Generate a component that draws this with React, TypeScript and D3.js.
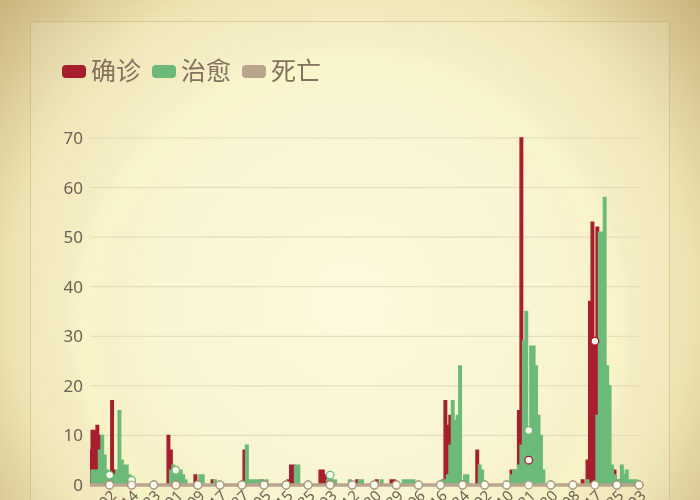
import React from 'react';
import * as d3 from 'd3';

// ---------- data ----------
const tickLabels = ['02','14','23','01','09','17','27','05','15','25','03','12','20','29','06','16','24','02','10','21','30','08','17','25','03'];
const seriesNames = ['确诊', '治愈', '死亡'];
const yTickValues = [0, 10, 20, 30, 40, 50, 60, 70];

const confirmed = [
  7,11,11,12,10,3,2,0,0,
  17,3,1,0,0,0,0,0,0,
  0,0,0,0,0,0,0,0,0,
  0,0,0,0,0,10,7,0,0,
  0,0,0,0,0,0,0,2,0,
  0,0,0,0,0,1,0,0,0,
  0,0,0,0,0,0,0,0,0,
  7,0,0,0,0,0,0,1,0,
  0,0,0,0,0,0,0,0,0,
  1,4,4,0,0,0,0,0,0,
  0,0,0,0,3,3,2,0,0,
  0,0,0,0,0,0,0,0,0,
  0,1,0,0,0,0,0,0,0,
  1,0,0,0,0,0,1,1,0,
  0,0,0,0,0,0,0,0,0,
  0,0,0,0,0,0,0,0,0,
  1,17,12,14,5,0,0,0,0,
  0,0,0,0,0,7,0,0,0,
  0,0,0,0,0,0,0,0,0,
  0,3,3,1,15,70,10,6,5,
  2,0,0,0,0,0,0,0,0,
  0,0,0,0,0,0,0,0,0,
  0,0,0,1,0,5,37,53,29,
  52,20,30,8,3,0,3,3,0,
  1,0,0,0,0,0,0,0,0,
];

const cured = [
  0,3,3,3,7,10,6,3,2,
  2,2,3,15,5,4,4,2,1,
  0,0,0,0,0,0,0,0,0,
  0,0,0,0,0,0,3,4,3,
  3,3,2,1,0,0,0,0,0,
  2,2,0,0,0,0,1,0,0,
  0,0,0,0,0,0,0,0,0,
  0,8,1,1,1,1,1,1,0,
  1,0,0,0,0,0,0,0,0,
  0,0,0,4,4,0,0,0,0,
  0,0,0,0,0,0,0,1,2,
  1,1,0,0,0,0,0,1,0,
  0,0,1,1,0,0,0,0,0,
  0,0,1,0,0,0,0,0,0,
  0,0,1,1,1,1,1,0,0,
  0,0,0,0,0,0,0,0,0,
  1,1,2,8,17,13,14,24,0,
  2,2,0,0,0,0,4,3,0,
  0,0,0,0,0,0,0,0,0,
  0,2,3,3,4,8,29,35,11,
  28,28,24,14,10,3,0,0,0,
  0,0,0,0,0,0,0,0,0,
  0,0,0,0,0,1,0,0,0,
  14,51,51,58,24,20,4,2,0,
  1,4,2,3,1,1,1,1,0,
];

const deaths = [
  0,0,0,0,0,0,0,0,0,
  0,0,0,0,0,0,0,0,0,
  0,0,0,0,0,0,0,0,0,
  0,0,0,0,0,0,0,0,0,
  0,0,0,0,0,0,0,0,0,
  0,0,0,0,0,0,0,0,0,
  0,0,0,0,0,0,0,0,0,
  0,0,0,0,0,0,0,0,0,
  0,0,0,0,0,0,0,0,0,
  0,0,0,0,0,0,0,0,0,
  0,0,0,0,0,0,0,0,0,
  0,0,0,0,0,0,0,0,0,
  0,0,0,0,0,0,0,0,0,
  0,0,0,0,0,0,0,0,0,
  0,0,0,0,0,0,0,0,0,
  0,0,0,0,0,0,0,0,0,
  0,0,0,0,0,0,0,0,0,
  0,0,0,0,0,0,0,0,0,
  0,0,0,0,0,0,0,0,0,
  0,0,0,0,0,0,0,0,0,
  0,0,0,0,0,0,0,0,0,
  0,0,0,0,0,0,0,0,0,
  0,0,0,0,0,0,0,0,0,
  0,0,0,0,0,0,0,0,0,
  0,0,0,0,0,0,0,0,0,
];

// ---------- layout / style ----------
const W = 700, H = 500;
const plotLeft = 90, plotRight = 639, plotTop = 138, plotBottom = 485;
const firstTick = 8, tickStep = 9;
const colors = ['#a71f2e', '#6cba79', '#b8a58b'];
const textColor = '#6f6154';

export default function App() {
  const n = confirmed.length;
  const x = d3.scaleLinear().domain([0, n - 1]).range([plotLeft, plotRight]);
  const y = d3.scaleLinear().domain([0, 70]).range([plotBottom, plotTop]);
  const tickIdx = tickLabels.map((_, t) => firstTick + t * tickStep);

  const area = d3.area<number>().x((_, i) => x(i)).y0(y(0)).y1((d) => y(d)).curve(d3.curveStep);
  const line = d3.line<number>().x((_, i) => x(i)).y((d) => y(d)).curve(d3.curveStep);
  const flatLine = d3.line<number>().x((_, i) => x(i)).y((d) => y(d));
  const series = [confirmed, cured, deaths];

  return (
    <svg width={W} height={H} style={{ position: 'fixed', left: 0, top: 0, display: 'block' }}>
      <defs>
        <radialGradient id="bg" cx={350} cy={300} r={470} gradientUnits="userSpaceOnUse">
          <stop offset="0" stopColor="#fcf9dc" />
          <stop offset="0.45" stopColor="#f8f3cc" />
          <stop offset="0.72" stopColor="#eee4b2" />
          <stop offset="1" stopColor="#c7af79" />
        </radialGradient>
        <filter id="blur" x="-20%" y="-20%" width="140%" height="140%">
          <feGaussianBlur stdDeviation="8" />
        </filter>
      </defs>
      <rect x={0} y={0} width={W} height={H} fill="url(#bg)" />
      <circle cx={350} cy={330} r={265} fill="none" stroke="rgba(255,252,200,0.45)" strokeWidth={22} filter="url(#blur)" />
      <rect x={30.5} y={21.5} width={639} height={500} fill="rgba(255,255,235,0.14)" stroke="rgba(175,155,105,0.35)" strokeWidth={1} />

      {/* legend */}
      {seriesNames.map((name, k) => {
        const lx = [62, 152, 242][k];
        return (
          <g key={name}>
            <rect x={lx} y={65} width={24} height={13} rx={4} fill={colors[k]} />
            <text x={lx + 29} y={80} fontSize={25} fill="#85715f" fontFamily="'Noto Sans CJK SC', sans-serif">{name}</text>
          </g>
        );
      })}

      {/* grid + y labels */}
      {yTickValues.map((v) => (
        <g key={v}>
          {v > 0 && <line x1={plotLeft} x2={plotRight} y1={y(v)} y2={y(v)} stroke="#e2d9b8" strokeWidth={1} />}
          <text x={83} y={y(v)} dy="0.35em" textAnchor="end" fontSize={17} fill={textColor} fontFamily="'Noto Sans', sans-serif">{v}</text>
        </g>
      ))}

      {/* series */}
      {series.map((s, k) => (
        <g key={k}>
          {k < 2 && <path d={area(s) || ''} fill={colors[k]} />}
          {k < 2
            ? <path d={line(s) || ''} fill="none" stroke={colors[k]} strokeWidth={1.5} />
            : <path d={flatLine(s) || ''} fill="none" stroke={colors[k]} strokeWidth={3.5} />}
        </g>
      ))}
      {series.map((s, k) => (
        <g key={'sym' + k}>
          {tickIdx.map((i) => (
            <circle key={i} cx={x(i)} cy={y(s[i])} r={3.8} fill="#fffdf0" stroke={colors[k]} strokeWidth={1.3} />
          ))}
        </g>
      ))}

      {/* x labels */}
      {tickIdx.map((i, t) => (
        <text key={t} transform={`translate(${x(i) + 4},${plotBottom + 8}) rotate(-45)`} textAnchor="end" dy="0.35em" fontSize={15} fill={textColor} fontFamily="'Noto Sans', sans-serif">{tickLabels[t]}</text>
      ))}
    </svg>
  );
}
